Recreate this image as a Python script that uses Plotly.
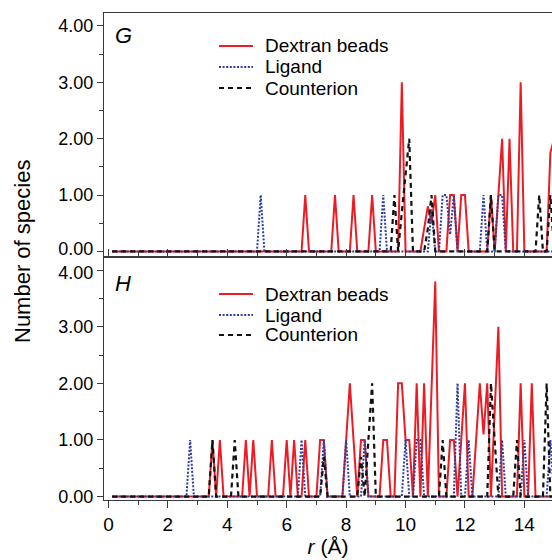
import plotly.graph_objects as go

# radial grid (Å) on which the species counts are histogrammed
STEP = 0.125
R = [round(k * STEP, 3) for k in range(1, 121)]

# ---- panel G: non-zero counts (r: count) ----
G_DEXTRAN = {6.625: 1, 7.625: 1, 8.25: 1, 8.875: 1, 9.875: 3,
             10.625: 0.4, 10.75: 0.8, 10.875: 0.5, 11.0: 1,
             11.5: 1, 11.625: 1, 11.875: 1, 12.0: 1, 12.875: 1,
             13.125: 1, 13.25: 2, 13.5: 2, 13.875: 3, 14.875: 1.75, 15.0: 2}
G_LIGAND = {5.125: 1, 9.25: 1, 10.875: 0.75, 11.25: 1, 11.375: 1,
            11.5: 0.3, 11.625: 1, 12.625: 1, 13.125: 1, 13.25: 1}
G_COUNTER = {9.625: 1, 9.875: 0.7, 10.0: 1.4, 10.125: 2, 10.75: 0.4,
             10.875: 1, 12.875: 1, 14.5: 1, 14.875: 1}

# ---- panel H ----
H_DEXTRAN = {3.5: 1, 3.75: 1, 4.625: 1, 4.875: 1, 5.5: 1, 6.0: 1, 6.25: 1,
             6.625: 1, 7.125: 1, 7.25: 1, 8.0: 1, 8.125: 2, 8.25: 1,
             8.5: 1, 8.625: 1, 9.25: 1, 9.375: 1, 9.75: 2, 9.875: 2,
             10.0: 1, 10.125: 1, 10.375: 2, 10.625: 2, 10.875: 1.9, 11.0: 3.8,
             11.5: 1, 11.625: 1, 11.875: 1, 12.0: 2, 12.375: 1, 12.5: 2,
             12.625: 1.1, 12.75: 2, 13.0: 1.5, 13.125: 3, 13.875: 2, 14.25: 2}
H_LIGAND = {2.75: 1, 6.5: 1, 7.25: 1, 8.0: 1, 8.625: 1, 10.0: 1,
            10.375: 1, 10.5: 1, 11.75: 2, 12.125: 1, 13.25: 1, 14.0: 1,
            14.875: 1}
H_COUNTER = {3.5: 1, 4.25: 1, 7.25: 0.7, 8.5: 0.7, 8.75: 1, 8.875: 2,
             11.25: 1, 12.875: 2, 13.0: 1, 13.75: 1, 14.75: 2}

SERIES_NAMES = ["Dextran beads", "Ligand", "Counterion"]
PANEL_LABELS = ["G", "H"]
Y_TICKS = [0, 1, 2, 3, 4]
X_TICKS = [0, 2, 4, 6, 8, 10, 12, 14]


def full(sparse):
    return [sparse.get(r, 0) for r in R]


FONT = "Liberation Sans, Arial, Helvetica, sans-serif"
STYLES = [dict(color="#ec1c24", width=2),
          dict(color="#2d3e9e", width=2, dash="2px,1.6px"),
          dict(color="#111111", width=2.2, dash="5px,4px")]

# figure geometry (pixels) used to place the hand-drawn legends
W, H, ML, MR, MT, MB = 552, 560, 104, 0, 13, 60
PW, PH = W - ML - MR, H - MT - MB


def px_x(p):
    return (p - ML) / PW


def px_y(p):
    return (H - MB - p) / PH


fig = go.Figure()
panels = [("x2", "y2", [G_DEXTRAN, G_LIGAND, G_COUNTER]),
          ("x", "y", [H_DEXTRAN, H_LIGAND, H_COUNTER])]
for xa, ya, data in panels:
    for name, sty, vals in zip(SERIES_NAMES, STYLES, data):
        fig.add_trace(go.Scatter(x=R, y=full(vals), mode="lines", name=name,
                                 line=sty, xaxis=xa, yaxis=ya,
                                 showlegend=False))
# empty traces so the label-only overlay axes are drawn
for xa, ya in (("x", "y3"), ("x2", "y4")):
    fig.add_trace(go.Scatter(x=[None], y=[None], xaxis=xa, yaxis=ya,
                             showlegend=False, hoverinfo="skip"))

AX = dict(showline=True, linecolor="#3a3a3a", linewidth=1.2, showgrid=False,
          zeroline=False, tickcolor="#3a3a3a", tickwidth=1.2)
XR = [-0.15, 14.93]
YR_H = [-0.06, 4.24]
YR_G = [-0.09, 4.23]
MINOR_Y = dict(ticks="outside", ticklen=4, dtick=0.5, tick0=0,
               tickcolor="#3a3a3a", tickwidth=1.2)
LBL = [f"{v:.2f}" for v in Y_TICKS]
# the touching labels at the panel junction are drawn on overlay axes
# nudged a few pixels apart (shift is in screen pixels, + = down)
LBL_H = LBL[:-1] + [""]
LBL_G = [""] + LBL[1:]
OVER = dict(showline=False, showgrid=False, zeroline=False, side="left",
            ticks="outside", ticklen=6, tickcolor="rgba(0,0,0,0)",
            tickfont=dict(size=18))

fig.update_layout(
    width=W, height=H,
    margin=dict(l=ML, r=MR, t=MT, b=MB),
    paper_bgcolor="white", plot_bgcolor="white",
    font=dict(family=FONT, size=19, color="black"),
    showlegend=False,
    xaxis=dict(**AX, domain=[0, 1], anchor="y", range=XR, mirror=True,
               ticks="outside", ticklen=7, tickvals=X_TICKS,
               tickfont=dict(size=19),
               minor=dict(ticks="outside", ticklen=4, dtick=1, tick0=0,
                          tickcolor="#3a3a3a", tickwidth=1.2),
               title=dict(text="<i>r</i> (Å)", font=dict(size=21), standoff=4)),
    xaxis2=dict(**AX, domain=[0, 1], anchor="y2", range=XR, mirror=True,
                ticks="inside", ticklen=7, tickvals=X_TICKS,
                showticklabels=False,
                minor=dict(ticks="inside", ticklen=4, dtick=1, tick0=0,
                           tickcolor="#3a3a3a", tickwidth=1.2)),
    yaxis=dict(**AX, domain=[0, 0.5], anchor="x", range=YR_H,
               ticks="outside", ticklen=6, tickvals=Y_TICKS, ticktext=LBL_H,
               tickfont=dict(size=18), minor=MINOR_Y),
    yaxis2=dict(**AX, domain=[0.5, 1], anchor="x2", range=YR_G,
                ticks="outside", ticklen=6, tickvals=Y_TICKS, ticktext=LBL_G,
                tickfont=dict(size=18), minor=MINOR_Y),
    yaxis3=dict(**OVER, overlaying="y", anchor="x", range=YR_H,
                tickvals=[Y_TICKS[-1]], ticktext=[LBL[-1]], ticklabelshift=3),
    yaxis4=dict(**OVER, overlaying="y2", anchor="x2", range=YR_G,
                tickvals=[Y_TICKS[0]], ticktext=[LBL[0]], ticklabelshift=-3),
)

# y-axis title shared by both panels
fig.add_annotation(text="Number of species", textangle=-90, xref="paper",
                   yref="paper", x=px_x(22), y=px_y(252), xanchor="center",
                   yanchor="middle", showarrow=False, font=dict(size=22))

# panel letters
for lab, py in zip(PANEL_LABELS, [36, 283]):
    fig.add_annotation(text=f"<i>{lab}</i>", xref="paper", yref="paper",
                       x=px_x(123), y=px_y(py), xanchor="center",
                       yanchor="middle", showarrow=False, font=dict(size=22))

# legends (one per panel)
for rows in ([46, 67, 88], [294, 315, 335]):
    for name, sty, py in zip(SERIES_NAMES, STYLES, rows):
        fig.add_shape(type="line", xref="paper", yref="paper",
                      x0=px_x(219), x1=px_x(253), y0=px_y(py), y1=px_y(py),
                      line=dict(color=sty["color"], width=sty["width"],
                                dash=sty.get("dash", "solid")))
        fig.add_annotation(text=name, xref="paper", yref="paper",
                           x=px_x(263), y=px_y(py), xanchor="left",
                           yanchor="middle", showarrow=False,
                           font=dict(size=19))

fig.write_html("out.html")
